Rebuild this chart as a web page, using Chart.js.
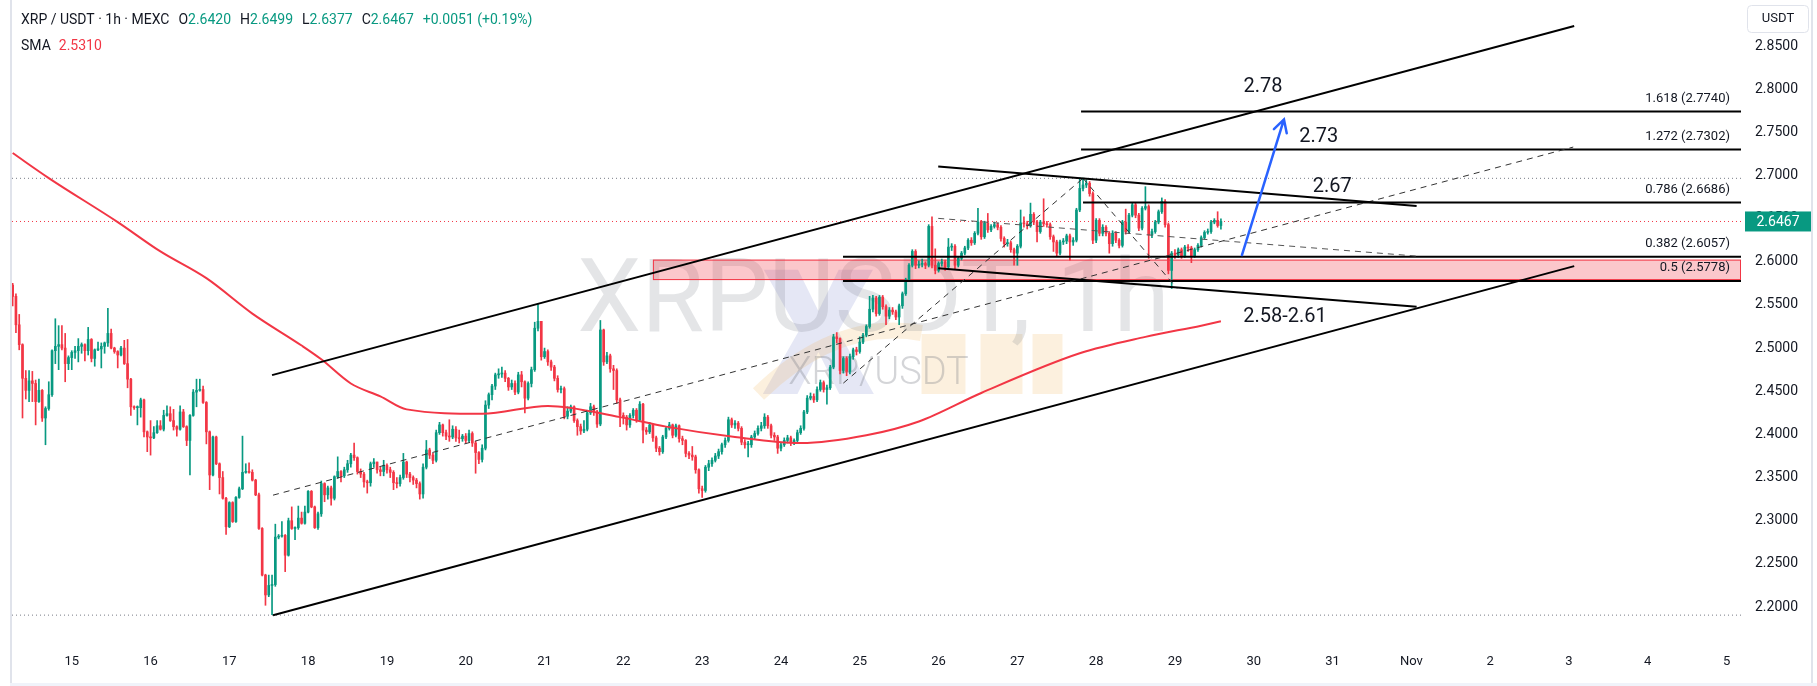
<!DOCTYPE html>
<html>
<head>
<meta charset="utf-8">
<title>XRP / USDT 1h</title>
<script src="https://cdn.jsdelivr.net/npm/chart.js@4.4.1/dist/chart.umd.min.js"></script>
<style>
  html, body { margin: 0; padding: 0; background: #fff; overflow: hidden; }
  canvas { display: block; }
</style>
</head>
<body>
<canvas id="chart" width="1817" height="686"></canvas>
<script>
// ---- data (hours counted from 15 Oct 00:00) ----
const startHour = -18;
const firstOpen = 2.573;
const closes = [
  2.560, 2.527, 2.504, 2.465, 2.451, 2.462, 2.459, 2.438, 2.451, 2.419, 2.430, 2.446,
  2.497, 2.502, 2.504, 2.500, 2.482, 2.489, 2.495, 2.497, 2.502, 2.504, 2.497, 2.510,
  2.488, 2.498, 2.499, 2.502, 2.506, 2.517, 2.500, 2.496, 2.492, 2.500, 2.482, 2.464,
  2.432, 2.431, 2.431, 2.440, 2.403, 2.397, 2.396, 2.402, 2.410, 2.406, 2.422, 2.424,
  2.416, 2.409, 2.406, 2.426, 2.409, 2.393, 2.422, 2.449, 2.451, 2.452, 2.437, 2.403,
  2.353, 2.397, 2.366, 2.350, 2.326, 2.293, 2.321, 2.299, 2.327, 2.337, 2.356, 2.357,
  2.356, 2.347, 2.330, 2.291, 2.237, 2.214, 2.225, 2.226, 2.281, 2.282, 2.283, 2.260,
  2.300, 2.291, 2.292, 2.303, 2.297, 2.310, 2.334, 2.316, 2.292, 2.308, 2.343, 2.330,
  2.338, 2.326, 2.351, 2.357, 2.352, 2.359, 2.366, 2.376, 2.373, 2.357, 2.354, 2.345,
  2.344, 2.366, 2.368, 2.359, 2.357, 2.364, 2.359, 2.356, 2.344, 2.343, 2.350, 2.368,
  2.354, 2.350, 2.347, 2.343, 2.331, 2.362, 2.382, 2.376, 2.370, 2.402, 2.411, 2.402,
  2.398, 2.397, 2.406, 2.396, 2.395, 2.398, 2.393, 2.401, 2.390, 2.379, 2.371, 2.384,
  2.434, 2.446, 2.456, 2.469, 2.470, 2.471, 2.465, 2.455, 2.459, 2.449, 2.469, 2.461,
  2.442, 2.459, 2.475, 2.523, 2.531, 2.490, 2.496, 2.484, 2.478, 2.465, 2.452, 2.453,
  2.421, 2.427, 2.432, 2.416, 2.409, 2.404, 2.406, 2.425, 2.432, 2.426, 2.412, 2.521,
  2.484, 2.491, 2.476, 2.474, 2.440, 2.422, 2.420, 2.411, 2.422, 2.428, 2.417, 2.435,
  2.405, 2.403, 2.411, 2.396, 2.384, 2.380, 2.397, 2.407, 2.411, 2.399, 2.410, 2.395,
  2.393, 2.378, 2.376, 2.374, 2.359, 2.337, 2.335, 2.362, 2.366, 2.370, 2.375, 2.380,
  2.388, 2.393, 2.417, 2.411, 2.413, 2.407, 2.391, 2.388, 2.388, 2.397, 2.401, 2.407,
  2.410, 2.420, 2.410, 2.399, 2.397, 2.384, 2.388, 2.393, 2.396, 2.390, 2.393, 2.402,
  2.407, 2.426, 2.442, 2.444, 2.440, 2.452, 2.460, 2.452, 2.454, 2.478, 2.513, 2.511,
  2.474, 2.488, 2.473, 2.490, 2.498, 2.496, 2.507, 2.515, 2.525, 2.545, 2.558, 2.540,
  2.559, 2.548, 2.537, 2.544, 2.542, 2.536, 2.549, 2.563, 2.579, 2.596, 2.612, 2.596,
  2.597, 2.598, 2.596, 2.641, 2.596, 2.590, 2.598, 2.600, 2.594, 2.617, 2.618, 2.596,
  2.604, 2.610, 2.616, 2.625, 2.622, 2.633, 2.646, 2.629, 2.645, 2.637, 2.641, 2.643,
  2.640, 2.627, 2.621, 2.622, 2.614, 2.610, 2.618, 2.645, 2.644, 2.642, 2.655, 2.646,
  2.635, 2.646, 2.644, 2.643, 2.629, 2.623, 2.610, 2.623, 2.624, 2.630, 2.623, 2.625,
  2.660, 2.685, 2.689, 2.691, 2.679, 2.625, 2.648, 2.633, 2.640, 2.633, 2.621, 2.633,
  2.625, 2.619, 2.646, 2.635, 2.654, 2.666, 2.654, 2.639, 2.662, 2.664, 2.631, 2.635,
  2.646, 2.658, 2.670, 2.643, 2.590, 2.610, 2.608, 2.614, 2.607, 2.617, 2.616, 2.607,
  2.614, 2.619, 2.628, 2.634, 2.635, 2.646, 2.648, 2.642, 2.6467
];
const highs = [
  2.575, 2.563, 2.539, 2.505, 2.474, 2.474, 2.473, 2.463, 2.464, 2.452, 2.432, 2.461,
  2.498, 2.534, 2.526, 2.526, 2.517, 2.491, 2.497, 2.502, 2.511, 2.506, 2.505, 2.524,
  2.511, 2.499, 2.507, 2.506, 2.507, 2.546, 2.522, 2.501, 2.497, 2.502, 2.509, 2.510,
  2.465, 2.433, 2.433, 2.442, 2.441, 2.404, 2.416, 2.409, 2.416, 2.416, 2.428, 2.433,
  2.432, 2.429, 2.410, 2.433, 2.429, 2.410, 2.423, 2.452, 2.464, 2.464, 2.456, 2.438,
  2.404, 2.398, 2.398, 2.367, 2.357, 2.327, 2.322, 2.322, 2.328, 2.339, 2.398, 2.366,
  2.367, 2.359, 2.348, 2.332, 2.292, 2.238, 2.237, 2.237, 2.296, 2.284, 2.299, 2.284,
  2.303, 2.316, 2.293, 2.317, 2.310, 2.317, 2.335, 2.335, 2.317, 2.310, 2.346, 2.344,
  2.340, 2.340, 2.352, 2.374, 2.358, 2.362, 2.370, 2.378, 2.390, 2.374, 2.360, 2.356,
  2.347, 2.368, 2.372, 2.368, 2.362, 2.370, 2.366, 2.362, 2.358, 2.350, 2.353, 2.378,
  2.369, 2.356, 2.352, 2.349, 2.345, 2.366, 2.393, 2.384, 2.378, 2.405, 2.414, 2.412,
  2.405, 2.417, 2.410, 2.409, 2.405, 2.400, 2.401, 2.405, 2.403, 2.392, 2.380, 2.388,
  2.439, 2.448, 2.458, 2.471, 2.476, 2.478, 2.474, 2.466, 2.463, 2.462, 2.472, 2.473,
  2.462, 2.461, 2.478, 2.530, 2.552, 2.531, 2.500, 2.498, 2.486, 2.480, 2.468, 2.456,
  2.455, 2.432, 2.434, 2.433, 2.418, 2.412, 2.416, 2.428, 2.436, 2.434, 2.428, 2.532,
  2.522, 2.495, 2.493, 2.480, 2.476, 2.442, 2.425, 2.422, 2.424, 2.430, 2.430, 2.438,
  2.436, 2.408, 2.414, 2.412, 2.398, 2.386, 2.399, 2.409, 2.414, 2.412, 2.412, 2.411,
  2.398, 2.394, 2.380, 2.386, 2.376, 2.360, 2.340, 2.364, 2.370, 2.373, 2.378, 2.383,
  2.390, 2.396, 2.420, 2.419, 2.416, 2.415, 2.409, 2.394, 2.392, 2.399, 2.404, 2.410,
  2.414, 2.424, 2.422, 2.412, 2.402, 2.399, 2.390, 2.396, 2.399, 2.398, 2.395, 2.405,
  2.410, 2.428, 2.445, 2.448, 2.447, 2.455, 2.463, 2.462, 2.457, 2.480, 2.516, 2.518,
  2.512, 2.490, 2.490, 2.493, 2.500, 2.501, 2.513, 2.517, 2.527, 2.560, 2.561, 2.560,
  2.561, 2.561, 2.550, 2.547, 2.547, 2.544, 2.551, 2.565, 2.581, 2.598, 2.614, 2.614,
  2.601, 2.603, 2.600, 2.643, 2.652, 2.615, 2.600, 2.603, 2.602, 2.627, 2.621, 2.620,
  2.606, 2.612, 2.618, 2.627, 2.628, 2.635, 2.662, 2.648, 2.647, 2.656, 2.643, 2.646,
  2.645, 2.642, 2.629, 2.626, 2.624, 2.616, 2.620, 2.660, 2.652, 2.647, 2.668, 2.657,
  2.648, 2.648, 2.673, 2.647, 2.645, 2.631, 2.625, 2.625, 2.627, 2.632, 2.632, 2.628,
  2.662, 2.697, 2.697, 2.695, 2.693, 2.681, 2.650, 2.650, 2.643, 2.642, 2.635, 2.636,
  2.635, 2.627, 2.648, 2.661, 2.656, 2.668, 2.668, 2.656, 2.664, 2.687, 2.666, 2.638,
  2.648, 2.660, 2.674, 2.672, 2.645, 2.612, 2.614, 2.616, 2.616, 2.619, 2.620, 2.618,
  2.616, 2.621, 2.630, 2.636, 2.638, 2.648, 2.650, 2.658, 2.6499
];
const lows = [
  2.549, 2.518, 2.498, 2.419, 2.441, 2.438, 2.438, 2.411, 2.437, 2.415, 2.388, 2.428,
  2.444, 2.482, 2.475, 2.498, 2.461, 2.475, 2.475, 2.488, 2.484, 2.494, 2.485, 2.492,
  2.484, 2.479, 2.497, 2.477, 2.494, 2.502, 2.499, 2.494, 2.477, 2.491, 2.481, 2.454,
  2.422, 2.429, 2.411, 2.420, 2.397, 2.380, 2.376, 2.395, 2.401, 2.405, 2.404, 2.421,
  2.415, 2.405, 2.398, 2.405, 2.408, 2.387, 2.353, 2.421, 2.432, 2.450, 2.436, 2.389,
  2.336, 2.352, 2.365, 2.331, 2.325, 2.284, 2.292, 2.298, 2.298, 2.326, 2.336, 2.355,
  2.355, 2.346, 2.329, 2.290, 2.236, 2.202, 2.212, 2.191, 2.224, 2.279, 2.281, 2.241,
  2.259, 2.290, 2.278, 2.290, 2.296, 2.296, 2.309, 2.315, 2.291, 2.290, 2.305, 2.322,
  2.325, 2.318, 2.324, 2.349, 2.345, 2.350, 2.356, 2.362, 2.370, 2.354, 2.350, 2.339,
  2.332, 2.340, 2.362, 2.355, 2.352, 2.352, 2.355, 2.350, 2.336, 2.338, 2.340, 2.348,
  2.350, 2.345, 2.342, 2.338, 2.325, 2.326, 2.360, 2.372, 2.366, 2.368, 2.400, 2.398,
  2.394, 2.392, 2.395, 2.392, 2.390, 2.392, 2.390, 2.391, 2.386, 2.355, 2.366, 2.368,
  2.382, 2.430, 2.440, 2.452, 2.465, 2.466, 2.461, 2.451, 2.452, 2.446, 2.447, 2.455,
  2.425, 2.440, 2.455, 2.473, 2.520, 2.486, 2.488, 2.480, 2.474, 2.462, 2.449, 2.448,
  2.418, 2.418, 2.425, 2.414, 2.399, 2.400, 2.402, 2.404, 2.423, 2.422, 2.408, 2.410,
  2.480, 2.482, 2.472, 2.452, 2.436, 2.409, 2.412, 2.405, 2.408, 2.419, 2.414, 2.415,
  2.390, 2.400, 2.401, 2.392, 2.380, 2.376, 2.378, 2.395, 2.405, 2.396, 2.397, 2.391,
  2.388, 2.374, 2.372, 2.370, 2.355, 2.332, 2.327, 2.333, 2.358, 2.363, 2.368, 2.372,
  2.377, 2.385, 2.391, 2.408, 2.407, 2.404, 2.388, 2.384, 2.374, 2.385, 2.395, 2.399,
  2.404, 2.407, 2.407, 2.396, 2.393, 2.378, 2.381, 2.386, 2.390, 2.387, 2.388, 2.391,
  2.400, 2.405, 2.424, 2.440, 2.437, 2.438, 2.450, 2.449, 2.435, 2.452, 2.476, 2.506,
  2.470, 2.471, 2.468, 2.470, 2.487, 2.492, 2.494, 2.505, 2.513, 2.523, 2.542, 2.537,
  2.538, 2.545, 2.527, 2.534, 2.539, 2.533, 2.527, 2.546, 2.561, 2.577, 2.594, 2.592,
  2.593, 2.594, 2.592, 2.594, 2.593, 2.586, 2.588, 2.595, 2.590, 2.592, 2.613, 2.592,
  2.594, 2.602, 2.608, 2.614, 2.619, 2.620, 2.631, 2.626, 2.627, 2.634, 2.635, 2.639,
  2.637, 2.624, 2.617, 2.618, 2.611, 2.596, 2.596, 2.616, 2.640, 2.638, 2.640, 2.643,
  2.623, 2.633, 2.641, 2.640, 2.626, 2.612, 2.607, 2.608, 2.620, 2.621, 2.602, 2.619,
  2.623, 2.658, 2.682, 2.686, 2.676, 2.621, 2.622, 2.630, 2.630, 2.630, 2.610, 2.618,
  2.622, 2.616, 2.617, 2.632, 2.633, 2.652, 2.651, 2.636, 2.637, 2.660, 2.604, 2.628,
  2.633, 2.644, 2.656, 2.640, 2.586, 2.569, 2.604, 2.605, 2.604, 2.605, 2.612, 2.599,
  2.605, 2.612, 2.617, 2.626, 2.632, 2.633, 2.644, 2.640, 2.6377
];

const smaHours  = [-18, -7, 14, 27, 41, 55, 70, 76, 85, 94, 102, 125, 145, 167, 181, 202, 222, 242, 258, 277, 307, 327, 344, 350];
const smaValues = [2.726, 2.697, 2.646, 2.612, 2.581, 2.540, 2.503, 2.487, 2.459, 2.444, 2.429, 2.424, 2.433, 2.420, 2.409, 2.397, 2.390, 2.399, 2.415, 2.448, 2.494, 2.513, 2.526, 2.531];

const dayTicks  = [0, 24, 48, 72, 96, 120, 144, 168, 192, 216, 240, 264, 288, 312, 336, 360, 384, 408, 432, 456, 480, 504];
const dayLabels = ['15', '16', '17', '18', '19', '20', '21', '22', '23', '24', '25', '26', '27', '28', '29', '30', '31', 'Nov', '2', '3', '4', '5'];
const priceTicks = [2.20, 2.25, 2.30, 2.35, 2.40, 2.45, 2.50, 2.55, 2.60, 2.65, 2.70, 2.75, 2.80, 2.85];

// drawings, as [hour, price] end points
const channelUpper = [[61.0, 2.4687], [457.6, 2.8732]];
const channelLower = [[61.3, 2.1905], [457.6, 2.5950]];
const wedgeUpper   = [[263.9, 2.7105], [409.6, 2.6646]];
const wedgeLower   = [[263.9, 2.5924], [409.6, 2.5478]];
const dashedLong   = [[61.3, 2.3296], [457.3, 2.7329]];
const dashedSteep  = [[235.0, 2.4594], [308.0, 2.6967]];
const dashedDrop   = [[308.0, 2.6967], [336.6, 2.5692]];
const dashedFlat   = [[263.9, 2.6503], [409.6, 2.6066]];
const arrowPath    = [[356.4, 2.6078], [369.2, 2.7649]];

const fibRatios     = ['1.618', '1.272', '0.786', '0.382', '0.5'];
const fibPrices     = [2.7740, 2.7302, 2.6686, 2.6057, 2.5778];
const fibStartHours = [307.4, 307.4, 308.0, 234.9, 234.9];
const zoneHours  = [177.0, 508.4];
const zonePrices = [2.5788, 2.6025];

const targetLabels = ['2.78', '2.73', '2.67', '2.58-2.61'];
const targetHours  = [362.8, 379.8, 383.9, 369.5];
const targetPrices = [2.8025, 2.7449, 2.6862, 2.5363];

const visibleHigh = 2.6967;
const visibleLow  = 2.1906;
const lastPrice   = 2.6467;
const headerOHLC  = ['2.6420', '2.6499', '2.6377', '2.6467'];
const headerChange = '+0.0051 (+0.19%)';
const smaLast = '2.5310';

const xMin = -18.2, xMax = 508.4;
const yMin = 2.156, yMax = 2.9033;

// ---- build ----
const up = '#089981', down = '#f23645', ink = '#131722';
const family = 'Roboto, "Noto Sans", sans-serif';

const hours = closes.map((c, i) => startHour + i);
const opens = closes.map((c, i) => i === 0 ? firstOpen : closes[i - 1]);
const colors = closes.map((c, i) => c >= opens[i] ? up : down);
const wickData = closes.map((c, i) => ({ x: hours[i], y: [Math.min(lows[i], opens[i], c), Math.max(highs[i], opens[i], c)] }));
const bodyData = closes.map((c, i) => ({ x: hours[i], y: [opens[i], c] }));

function lineSet(points, color, width, dash, order) {
  return {
    type: 'line',
    data: points.map(p => ({ x: p[0], y: p[1] })),
    borderColor: color,
    borderWidth: width,
    borderDash: dash || [],
    pointRadius: 0,
    tension: 0,
    fill: false,
    order: order
  };
}

const datasets = [
  lineSet(channelUpper, '#000', 2, null, 0),
  lineSet(channelLower, '#000', 2, null, 0),
  lineSet(wedgeUpper, '#000', 2, null, 0),
  lineSet(wedgeLower, '#000', 2, null, 0),
  lineSet(dashedLong, '#333', 1, [6, 5], 0),
  lineSet(dashedSteep, '#333', 1, [6, 5], 0),
  lineSet(dashedDrop, '#333', 1, [6, 5], 0),
  lineSet(dashedFlat, '#555', 1, [6, 5], 0),
];
fibPrices.forEach((p, i) => datasets.push(lineSet([[fibStartHours[i], p], [xMax, p]], '#000', 2, null, 1)));
datasets.push(Object.assign(lineSet(smaHours.map((h, i) => [h, smaValues[i]]), '#f23645', 2, null, 2), { cubicInterpolationMode: 'monotone' }));
datasets.push({ type: 'bar', data: bodyData, backgroundColor: colors, barThickness: 2, minBarLength: 1, grouped: false, order: 3 });
datasets.push({ type: 'bar', data: wickData, backgroundColor: colors, barThickness: 1, grouped: false, order: 4 });
datasets.push(lineSet([[xMin, visibleHigh], [xMax, visibleHigh]], '#787b86', 1, [1, 3], 6));
datasets.push(lineSet([[xMin, visibleLow], [xMax, visibleLow]], '#787b86', 1, [1, 3], 6));
datasets.push(lineSet([[xMin, lastPrice], [xMax, lastPrice]], '#f23645', 1, [1, 3], 6));

const overlay = {
  id: 'overlay',
  beforeDraw(chart) {
    const ctx = chart.ctx;
    ctx.save();
    ctx.fillStyle = '#fff';
    ctx.fillRect(0, 0, chart.width, chart.height);
    ctx.restore();
  },
  beforeDatasetsDraw(chart) {
    const { ctx, chartArea: a, scales: { x, y } } = chart;
    const cx = (a.left + a.right) / 2;
    ctx.save();
    ctx.beginPath();
    ctx.rect(a.left, a.top, a.right - a.left, a.bottom - a.top);
    ctx.clip();
    // exchange logo watermark (rough)
    ctx.fillStyle = 'rgba(92,107,192,0.16)';
    ctx.font = '900 175px ' + family;
    ctx.textAlign = 'center';
    ctx.textBaseline = 'alphabetic';
    ctx.fillText('X', cx - 58, 394);
    ctx.strokeStyle = 'rgba(240,180,90,0.2)';
    ctx.lineWidth = 16;
    ctx.beginPath();
    ctx.moveTo(cx - 118, 394);
    ctx.quadraticCurveTo(cx - 40, 318, cx + 45, 333);
    ctx.stroke();
    ctx.fillStyle = 'rgba(240,180,90,0.2)';
    [[cx + 45, 44], [cx + 104, 42], [cx + 156, 30]].forEach(b => ctx.fillRect(b[0], 334, b[1], 60));
    // symbol watermark
    ctx.fillStyle = 'rgba(120,123,134,0.2)';
    ctx.font = '102px ' + family;
    ctx.fillText('XRPUSDT, 1h', cx - 3, 331);
    ctx.fillStyle = 'rgba(120,123,134,0.32)';
    ctx.font = '300 38px ' + family;
    ctx.fillText('XRP/USDT', cx + 2, 384);
    // support zone
    const zx0 = x.getPixelForValue(zoneHours[0]), zx1 = x.getPixelForValue(zoneHours[1]);
    const zy0 = y.getPixelForValue(zonePrices[1]), zy1 = y.getPixelForValue(zonePrices[0]);
    ctx.fillStyle = 'rgba(242,54,69,0.28)';
    ctx.fillRect(zx0, zy0, zx1 - zx0, zy1 - zy0);
    ctx.strokeStyle = '#f23645';
    ctx.lineWidth = 1;
    ctx.strokeRect(zx0 + 0.5, zy0 + 0.5, zx1 - zx0 - 1, zy1 - zy0 - 1);
    ctx.restore();
  },
  afterDatasetsDraw(chart) {
    const { ctx, chartArea: a, scales: { x, y } } = chart;
    ctx.save();
    // fib labels
    ctx.font = '13px ' + family;
    ctx.fillStyle = ink;
    ctx.textAlign = 'right';
    ctx.textBaseline = 'middle';
    fibPrices.forEach((p, i) => {
      ctx.fillText(fibRatios[i] + ' (' + p.toFixed(4) + ')', a.right - 11, y.getPixelForValue(p) - 13);
    });
    // target labels
    ctx.font = '20px ' + family;
    ctx.textAlign = 'center';
    targetLabels.forEach((t, i) => {
      ctx.fillText(t, x.getPixelForValue(targetHours[i]), y.getPixelForValue(targetPrices[i]));
    });
    // blue arrow
    const x0 = x.getPixelForValue(arrowPath[0][0]), y0 = y.getPixelForValue(arrowPath[0][1]);
    const x1 = x.getPixelForValue(arrowPath[1][0]), y1 = y.getPixelForValue(arrowPath[1][1]);
    const ang = Math.atan2(y1 - y0, x1 - x0);
    ctx.strokeStyle = '#2962ff';
    ctx.lineWidth = 2.5;
    ctx.lineCap = 'round';
    ctx.beginPath();
    ctx.moveTo(x0, y0);
    ctx.lineTo(x1, y1);
    ctx.moveTo(x1 - 14 * Math.cos(ang - 0.5), y1 - 14 * Math.sin(ang - 0.5));
    ctx.lineTo(x1, y1);
    ctx.lineTo(x1 - 14 * Math.cos(ang + 0.5), y1 - 14 * Math.sin(ang + 0.5));
    ctx.stroke();
    ctx.restore();
  },
  afterDraw(chart) {
    const { ctx, chartArea: a, scales: { y } } = chart;
    ctx.save();
    // frame
    ctx.fillStyle = '#e0e3eb';
    ctx.fillRect(10, 0, 2, chart.height);
    ctx.fillRect(1811, 0, 2, chart.height);
    ctx.fillStyle = '#f0f3fa';
    ctx.fillRect(10, 683, chart.width - 10, 3);
    // header
    ctx.font = '14px ' + family;
    ctx.textAlign = 'left';
    ctx.textBaseline = 'middle';
    let hx = 21;
    const put = (t, c, gap) => { ctx.fillStyle = c; ctx.fillText(t, hx, 20); hx += ctx.measureText(t).width + (gap || 0); };
    put('XRP / USDT · 1h · MEXC', ink, 9);
    ['O', 'H', 'L', 'C'].forEach((k, i) => { put(k, ink); put(headerOHLC[i], up, 9); });
    put(headerChange, up);
    ctx.fillStyle = ink;
    ctx.fillText('SMA', 21, 46);
    ctx.fillStyle = down;
    ctx.fillText(smaLast, 21 + ctx.measureText('SMA').width + 8, 46);
    // currency box
    ctx.strokeStyle = '#e0e3eb';
    ctx.lineWidth = 1;
    ctx.beginPath();
    ctx.roundRect(1747.5, 5.5, 61, 27, 4);
    ctx.stroke();
    ctx.fillStyle = ink;
    ctx.font = '13px ' + family;
    ctx.textAlign = 'center';
    ctx.fillText('USDT', 1778, 19);
    // last price tag
    const py = y.getPixelForValue(lastPrice);
    ctx.fillStyle = up;
    ctx.fillRect(a.right + 4, py - 10, 66, 20);
    ctx.fillStyle = '#fff';
    ctx.font = '14px ' + family;
    ctx.fillText(lastPrice.toFixed(4), a.right + 37, py + 1);
    ctx.restore();
  }
};

new Chart(document.getElementById('chart'), {
  type: 'bar',
  data: { datasets: datasets },
  plugins: [overlay],
  options: {
    responsive: false,
    animation: false,
    devicePixelRatio: 1,
    events: [],
    layout: { padding: { left: 12, right: 0, top: 0, bottom: 0 } },
    plugins: { legend: { display: false }, tooltip: { enabled: false } },
    scales: {
      x: {
        type: 'linear',
        min: xMin,
        max: xMax,
        offset: false,
        grid: { display: false, drawTicks: false },
        border: { display: false },
        afterBuildTicks: s => { s.ticks = dayTicks.map(v => ({ value: v })); },
        afterFit: s => { s.height = 41; s.paddingLeft = 0; s.paddingRight = 0; },
        ticks: {
          autoSkip: false,
          maxRotation: 0,
          padding: 9,
          color: ink,
          font: { family: family, size: 13 },
          callback: v => dayLabels[dayTicks.indexOf(v)]
        }
      },
      y: {
        position: 'right',
        min: yMin,
        max: yMax,
        grid: { display: false, drawTicks: false },
        border: { display: false },
        afterBuildTicks: s => { s.ticks = priceTicks.map(v => ({ value: v })); },
        afterFit: s => { s.width = 76; s.paddingTop = 0; s.paddingBottom = 0; },
        ticks: {
          padding: 14,
          color: ink,
          font: { family: family, size: 14 },
          callback: v => v.toFixed(4)
        }
      }
    }
  }
});
</script>
</body>
</html>
